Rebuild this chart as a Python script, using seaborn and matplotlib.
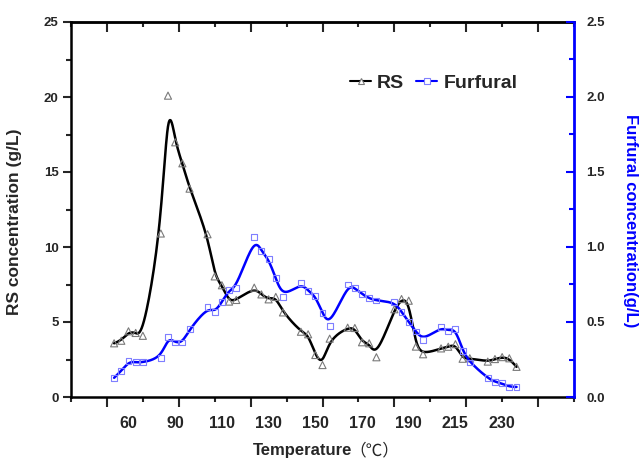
import numpy as np
import pandas as pd
import matplotlib
matplotlib.use("Agg")
import matplotlib.pyplot as plt
from matplotlib.lines import Line2D
from matplotlib.ticker import MultipleLocator, FixedLocator, FormatStrFormatter
import seaborn as sns

# ---- data -----------------------------------------------------------------
# position of each sample along the x axis (five samples per temperature)
sample_pos = [1.2, 1.4, 1.6, 1.8, 2.0,
              2.5, 2.7, 2.9, 3.1, 3.3,
              3.8, 4.0, 4.2, 4.4, 4.6,
              5.1, 5.3, 5.5, 5.7, 5.9,
              6.4, 6.6, 6.8, 7.0, 7.2,
              7.7, 7.9, 8.1, 8.3, 8.5,
              9.0, 9.2, 9.4, 9.6, 9.8,
              10.3, 10.5, 10.7, 10.9, 11.1,
              11.6, 11.8, 12.0, 12.2, 12.4]

# reducing sugar concentration (g/L)
rs = [3.58, 3.75, 4.38, 4.27, 4.08,
      10.9, 20.09, 16.98, 15.58, 13.89,
      10.85, 8.04, 7.45, 6.36, 6.47,
      7.29, 6.84, 6.51, 6.67, 5.64,
      4.35, 4.18, 2.80, 2.13, 3.89,
      4.62, 4.60, 3.65, 3.58, 2.65,
      5.85, 6.53, 6.42, 3.36, 2.85,
      3.24, 3.35, 3.52, 2.55, 2.58,
      2.36, 2.53, 2.66, 2.58, 2.01]

# furfural concentration (g/L)
furfural = [0.128, 0.173, 0.238, 0.231, 0.231,
            0.260, 0.399, 0.363, 0.363, 0.451,
            0.598, 0.565, 0.633, 0.713, 0.729,
            1.065, 0.973, 0.918, 0.791, 0.664,
            0.760, 0.709, 0.673, 0.558, 0.471,
            0.750, 0.726, 0.686, 0.658, 0.643,
            0.633, 0.569, 0.498, 0.437, 0.378,
            0.466, 0.441, 0.456, 0.309, 0.230,
            0.126, 0.101, 0.092, 0.067, 0.067]

temp_labels = ["60", "90", "110", "130", "150", "170", "190", "215", "230"]
group_size = 5


def bspline(px, py, k=3, samples=800):
    """Clamped uniform B-spline using the data points as control points."""
    P = np.column_stack([px, py]).astype(float)
    n = len(P)
    knots = np.concatenate([np.zeros(k + 1), np.arange(1, n - k),
                            np.full(k + 1, n - k)]).astype(float)
    t = np.linspace(0, n - k, samples)
    t[-1] -= 1e-9
    N = ((knots[:-1] <= t[:, None]) & (t[:, None] < knots[1:])).astype(float)
    for d in range(1, k + 1):
        m = len(knots) - 1 - d
        Nn = np.zeros((len(t), m))
        for i in range(m):
            d1 = knots[i + d] - knots[i]
            d2 = knots[i + d + 1] - knots[i + 1]
            if d1 > 0:
                Nn[:, i] += (t - knots[i]) / d1 * N[:, i]
            if d2 > 0:
                Nn[:, i] += (knots[i + d + 1] - t) / d2 * N[:, i + 1]
        N = Nn
    C = N @ P
    return C[:, 0], C[:, 1]


df = pd.DataFrame({"pos": sample_pos, "RS": rs, "Furfural": furfural})
cx_rs, cy_rs = bspline(df["pos"], df["RS"])
cx_fu, cy_fu = bspline(df["pos"], df["Furfural"])
curve_rs = pd.DataFrame({"pos": cx_rs, "val": cy_rs})
curve_fu = pd.DataFrame({"pos": cx_fu, "val": cy_fu})

# ---- style ----------------------------------------------------------------
sns.set_style("ticks")
plt.rcParams["font.family"] = ["Liberation Sans", "DejaVu Sans"]
plt.rcParams["font.weight"] = "bold"

BLUE = "#0000FF"
fig = plt.figure(figsize=(6.4, 4.59), dpi=100)
ax = fig.add_axes([71 / 640, 62 / 459, 503 / 640, 375 / 459])
ax2 = ax.twinx()

# RS on left axis
sns.lineplot(data=curve_rs, x="pos", y="val", ax=ax, color="black",
             linewidth=1.8, sort=False, estimator=None, zorder=2)
sns.scatterplot(data=df, x="pos", y="RS", ax=ax, marker="^", s=26,
                facecolors="none", edgecolor="#7a7a7a", linewidth=0.8,
                zorder=3)

# Furfural on right axis
sns.lineplot(data=curve_fu, x="pos", y="val", ax=ax2, color=BLUE,
             linewidth=1.8, sort=False, estimator=None, zorder=2)
sns.scatterplot(data=df, x="pos", y="Furfural", ax=ax2, marker="s", s=18,
                facecolors="none", edgecolor="#7f7fff", linewidth=0.8,
                zorder=3)

# ---- axes -----------------------------------------------------------------
ax.set_xlim(0, 14)
ax.set_ylim(0, 25)
ax2.set_ylim(0, 2.5)

ax.xaxis.set_major_locator(FixedLocator(np.arange(1, 14, 2)))
ax.xaxis.set_minor_locator(FixedLocator(np.arange(0, 15, 2)))
ax.set_xticklabels([])
ax.yaxis.set_major_locator(MultipleLocator(5))
ax.yaxis.set_minor_locator(MultipleLocator(2.5))
ax2.yaxis.set_major_locator(MultipleLocator(0.5))
ax2.yaxis.set_minor_locator(MultipleLocator(0.25))
ax2.yaxis.set_major_formatter(FormatStrFormatter("%.1f"))

ax.tick_params(axis="x", which="major", direction="out", length=7, width=1.5)
ax.tick_params(axis="x", which="minor", direction="out", length=3.5, width=1.5)
ax.tick_params(axis="y", which="major", direction="out", length=6, width=1.5,
               labelsize=9.5, pad=3)
ax.tick_params(axis="y", which="minor", direction="out", length=3.5, width=1.5)
ax2.tick_params(axis="y", which="major", direction="in", length=6, width=1.5,
                color=BLUE, labelsize=9.5, pad=9)
ax2.tick_params(axis="y", which="minor", direction="in", length=3.5, width=1.5,
                color=BLUE)
for lab in ax.get_yticklabels() + ax2.get_yticklabels():
    lab.set_fontweight("bold")

top = ax.secondary_xaxis("top")
top.xaxis.set_major_locator(FixedLocator(np.arange(1, 14, 2)))
top.xaxis.set_minor_locator(FixedLocator(np.arange(0, 15, 2)))
top.tick_params(which="major", direction="in", length=7, width=1.5, labeltop=False)
top.tick_params(which="minor", direction="in", length=3.5, width=1.5)
top.spines["top"].set_linewidth(1.8)

for s in ["left", "bottom", "top"]:
    ax.spines[s].set_linewidth(1.8)
    ax.spines[s].set_color("black")
ax.spines["right"].set_visible(False)
for s in ["left", "bottom", "top"]:
    ax2.spines[s].set_visible(False)
ax2.spines["right"].set_visible(True)
ax2.spines["right"].set_color(BLUE)
ax2.spines["right"].set_linewidth(2)

# temperature labels centred under each group of samples
for i, lab in enumerate(temp_labels):
    centre = np.mean(sample_pos[i * group_size:(i + 1) * group_size])
    ax.text(centre, -0.071, lab, transform=ax.get_xaxis_transform(),
            ha="center", va="center", fontsize=11.5, fontweight="bold")

ax.set_xlabel("")
ax.set_ylabel("RS concentration (g/L)", fontsize=12.5, fontweight="bold")
ax.yaxis.set_label_coords(-0.097, 0.468)
ax2.set_ylabel("Furfural concentration(g/L)", fontsize=12, fontweight="bold",
               color=BLUE, rotation=270, va="center")
ax2.yaxis.set_label_coords(1.113, 0.47)

fig.text(352 / 640, (459 - 451) / 459, "Temperature",
         ha="right", va="center", fontsize=12, fontweight="bold")
fig.text(349 / 640, (459 - 451) / 459, "（℃）", ha="left", va="center",
         fontsize=12, fontweight="normal",
         family=["Noto Sans CJK SC", "DejaVu Sans"])

# legend
handles = [Line2D([], [], color="black", lw=1.5, marker="^", markersize=5,
                  markerfacecolor="white", markeredgecolor="#7a7a7a",
                  markeredgewidth=0.8),
           Line2D([], [], color=BLUE, lw=1.5, marker="s", markersize=4.5,
                  markerfacecolor="white", markeredgecolor="#7f7fff",
                  markeredgewidth=0.8)]
leg = ax.legend(handles, ["RS", "Furfural"], ncol=2, frameon=False,
                loc="center left",
                bbox_to_anchor=((350 - 71) / 503, (397 - 83) / 375),
                handlelength=1.08, handletextpad=0.32, columnspacing=0.62,
                borderpad=0, borderaxespad=0,
                prop={"size": 14, "weight": "bold"})

fig.savefig("out.png", dpi=100)
